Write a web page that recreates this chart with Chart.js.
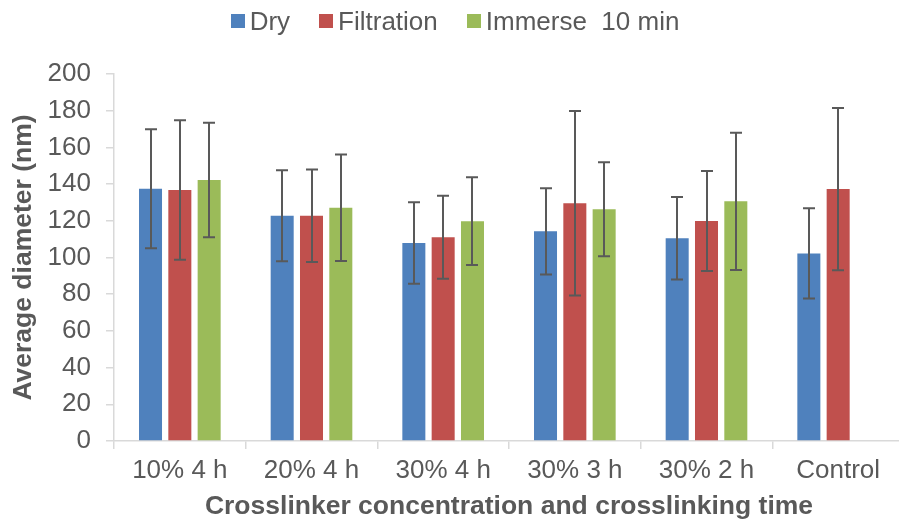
<!DOCTYPE html>
<html>
<head>
<meta charset="utf-8">
<script src="https://cdn.jsdelivr.net/npm/chart.js@4.4.1/dist/chart.umd.min.js"></script>
<style>
  html, body { margin: 0; padding: 0; background: #fff; overflow: hidden; }
  #wrap { position: relative; width: 899px; height: 527px; overflow: hidden; }
  #chart { position: absolute; left: 0; top: 0; }
  .legend {
    position: absolute; top: 8px; left: 0; width: 910px; height: 26px;
    display: flex; justify-content: center; align-items: center;
    font: 26px "Liberation Sans", Arial, sans-serif; color: #595959;
  }
  .legend span.item { display: flex; align-items: center; margin-right: 29px; white-space: pre; }
  .legend span.item:last-child { margin-right: 0; }
  .legend i { display: inline-block; width: 14px; height: 14px; margin-right: 5px; }
</style>
</head>
<body>
<div id="wrap">
  <canvas id="chart" width="904" height="527"></canvas>
  <div class="legend" id="legend"></div>
</div>
<script>
const CATEGORIES = ["10% 4 h", "20% 4 h", "30% 4 h", "30% 3 h", "30% 2 h", "Control"];

const SERIES_NAMES = ["Dry", "Filtration", "Immerse  10 min"];
const SERIES_COLORS = ["#4F81BD", "#C0504D", "#9BBB59"];

const DRY = [137.5, 122.8, 107.9, 114.3, 110.5, 102.2];
const DRY_ERR = [32.4, 24.8, 22.2, 23.5, 22.5, 24.6];

const FILTRATION = [136.8, 122.8, 111.0, 129.6, 119.9, 137.3];
const FILTRATION_ERR = [38.0, 25.2, 22.6, 50.3, 27.3, 44.2];

const IMMERSE = [142.2, 127.1, 119.8, 126.3, 130.6, null];
const IMMERSE_ERR = [31.2, 29.0, 23.9, 25.6, 37.4, null];

const Y_MIN = 0;
const Y_MAX = 200;
const Y_STEP = 20;

const TEXT_COLOR = "#595959";
const AXIS_COLOR = "#D9D9D9";

Chart.defaults.font.family = '"Liberation Sans", Arial, sans-serif';
Chart.defaults.color = TEXT_COLOR;

// error bars drawn on top of the bars, using the y scale
const errorBars = {
  id: "errorBars",
  afterDatasetsDraw(chart) {
    const ctx = chart.ctx;
    const yScale = chart.scales.y;
    ctx.save();
    ctx.strokeStyle = "#595959";
    ctx.lineWidth = 2;
    chart.data.datasets.forEach((ds, di) => {
      const meta = chart.getDatasetMeta(di);
      meta.data.forEach((bar, i) => {
        const v = ds.data[i];
        const e = ds.errors[i];
        if (v == null || e == null) return;
        const top = yScale.getPixelForValue(v + e);
        const bot = yScale.getPixelForValue(v - e);
        const x = Math.round(bar.x);
        ctx.beginPath();
        ctx.moveTo(x, top);
        ctx.lineTo(x, bot);
        ctx.moveTo(x - 6, top);
        ctx.lineTo(x + 6, top);
        ctx.moveTo(x - 6, bot);
        ctx.lineTo(x + 6, bot);
        ctx.stroke();
      });
    });
    ctx.restore();
  }
};

const values = [DRY, FILTRATION, IMMERSE];
const errors = [DRY_ERR, FILTRATION_ERR, IMMERSE_ERR];

const datasets = SERIES_NAMES.map((name, i) => ({
  label: name,
  data: values[i],
  errors: errors[i],
  backgroundColor: SERIES_COLORS[i],
  borderWidth: 0,
  categoryPercentage: 0.668,
  barPercentage: 0.785
}));

// legend as plain text above the canvas
const legendEl = document.getElementById("legend");
SERIES_NAMES.forEach((name, i) => {
  const item = document.createElement("span");
  item.className = "item";
  const box = document.createElement("i");
  box.style.background = SERIES_COLORS[i];
  item.appendChild(box);
  item.appendChild(document.createTextNode(name));
  legendEl.appendChild(item);
});

new Chart(document.getElementById("chart"), {
  type: "bar",
  data: { labels: CATEGORIES, datasets },
  plugins: [errorBars],
  options: {
    responsive: false,
    animation: false,
    layout: { padding: { top: 74, left: 0, right: 0, bottom: 0 } },
    plugins: {
      legend: { display: false },
      tooltip: { enabled: false }
    },
    scales: {
      x: {
        afterFit(scale) { scale.height = 86; },
        grid: {
          offset: true,
          drawOnChartArea: false,
          drawTicks: true,
          tickLength: 8,
          color: AXIS_COLOR,
          lineWidth: 1.5
        },
        border: { color: AXIS_COLOR, width: 1.5 },
        ticks: { font: { size: 26 }, color: TEXT_COLOR, padding: 6, maxRotation: 0 },
        title: {
          display: true,
          text: "Crosslinker concentration and crosslinking time",
          font: { size: 26.5, weight: "bold" },
          color: TEXT_COLOR,
          padding: { top: 0, bottom: 4 }
        }
      },
      y: {
        min: Y_MIN,
        max: Y_MAX,
        afterFit(scale) { scale.width = 114; },
        grid: {
          drawOnChartArea: false,
          drawTicks: true,
          tickLength: 8,
          color: AXIS_COLOR,
          lineWidth: 1.5
        },
        border: { color: AXIS_COLOR, width: 1.5 },
        ticks: { stepSize: Y_STEP, font: { size: 26 }, color: TEXT_COLOR, padding: 15 },
        title: {
          display: true,
          text: "Average diameter (nm)",
          font: { size: 26.5, weight: "bold" },
          color: TEXT_COLOR,
          padding: { top: 8, bottom: 0 }
        }
      }
    }
  }
});
</script>
</body>
</html>
